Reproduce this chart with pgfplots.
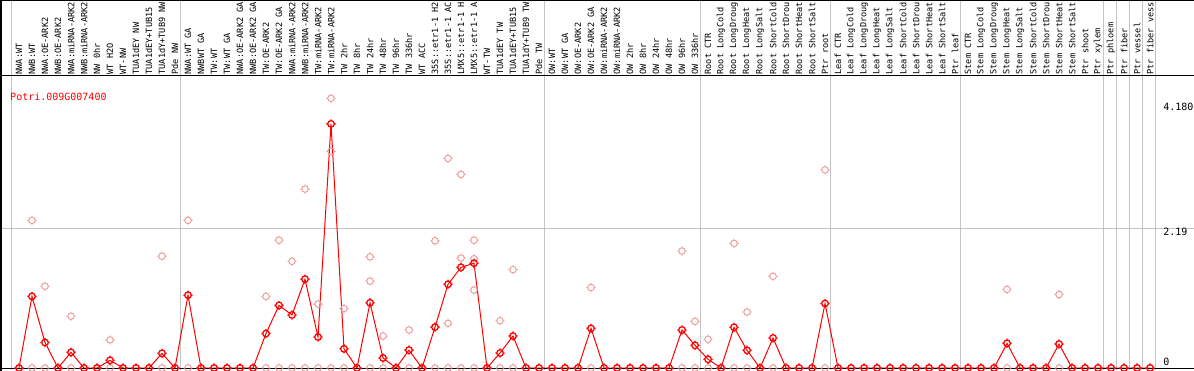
\documentclass[border=0pt]{standalone}
\usepackage{pgfplots}
\usepackage{pgfplotstable}
\pgfplotsset{compat=1.18}
\usepackage{fontspec}
\newfontfamily\monofont{DejaVu Sans Mono}
\definecolor{meanred}{RGB}{255,0,0}
\definecolor{reppink}{RGB}{236,150,150}
\definecolor{gridgray}{RGB}{196,196,196}

\tikzset{lab/.style={rotate=90, anchor=west, inner sep=0pt, text=black,
    font=\monofont\fontsize{8.6}{9}\selectfont}}

\pgfdeclareplotmark{ringtick}{%
  \pgfpathcircle{\pgfpointorigin}{\pgfplotmarksize}%
  \pgfpathmoveto{\pgfqpoint{\pgfplotmarksize}{0pt}}\pgfpathlineto{\pgfqpoint{1.4\pgfplotmarksize}{0pt}}%
  \pgfpathmoveto{\pgfqpoint{-\pgfplotmarksize}{0pt}}\pgfpathlineto{\pgfqpoint{-1.4\pgfplotmarksize}{0pt}}%
  \pgfpathmoveto{\pgfqpoint{0pt}{\pgfplotmarksize}}\pgfpathlineto{\pgfqpoint{0pt}{1.4\pgfplotmarksize}}%
  \pgfpathmoveto{\pgfqpoint{0pt}{-\pgfplotmarksize}}\pgfpathlineto{\pgfqpoint{0pt}{-1.4\pgfplotmarksize}}%
  \pgfusepathqstroke}

\pgfplotstableread{
x y
0 0
1 1.12
2 0.40
3 0
4 0.245
5 0
6 0
7 0.12
8 0
9 0
10 0
11 0.23
12 0
13 1.14
14 0
15 0
16 0
17 0
18 0
19 0.54
20 0.98
21 0.83
22 1.39
23 0.485
24 3.82
25 0.30
26 0
27 1.02
28 0.157
29 0
30 0.28
31 0
32 0.64
33 1.31
34 1.575
35 1.64
36 0
37 0.235
38 0.50
39 0
40 0
41 0
42 0
43 0
44 0.62
45 0
46 0
47 0
48 0
49 0
50 0
51 0.595
52 0.355
53 0.136
54 0
55 0.637
56 0.277
57 0
58 0.47
59 0
60 0
61 0
62 1.01
63 0
64 0
65 0
66 0
67 0
68 0
69 0
70 0
71 0
72 0
73 0
74 0
75 0
76 0.386
77 0
78 0
79 0
80 0.375
81 0
82 0
83 0
84 0
85 0
86 0
87 0
}\meanTable

\pgfplotstableread{
x y
1 2.31
2 1.28
4 0.81
7 0.44
11 1.75
13 2.31
19 1.12
20 2.00
21 1.67
22 2.80
23 1.00
24 4.22
24 3.39
25 0.93
27 1.74
27 1.36
28 0.50
30 0.595
32 1.99
33 3.28
33 0.70
34 3.03
34 1.72
35 2.00
35 1.71
35 1.22
37 0.74
38 1.54
44 1.26
51 1.83
52 0.73
53 0.45
55 1.95
56 0.876
58 1.435
62 3.10
76 1.23
80 1.15
}\repTable

\newcommand\lab[2]{\node[lab] at (axis cs:#1,4.59) {#2};}

\begin{document}
\begin{tikzpicture}
\begin{axis}[
  at={(0,0)}, anchor=south west,
  width=1194pt, height=370pt, scale only axis,
  xmin=-1.4615, xmax=90.3846,
  ymin=-0.0313, ymax=5.759,
  axis line style={draw=none},
  tick style={draw=none},
  xtick={-0.6,12.4,40.4,52.4,62.4,72.4,83.4,84.4,85.4,86.4,87.4},
  ytick={2.19},
  xticklabels={}, yticklabels={},
  xmajorgrids, ymajorgrids,
  grid style={gridgray, line width=1pt},
  clip=true,
]
% zero replicates (all categories)
\addplot[only marks, mark=ringtick, mark size=3.3pt, reppink, mark options={line width=0.9pt}]
  coordinates {(0,0)(1,0)(2,0)(3,0)(4,0)(5,0)(6,0)(7,0)(8,0)(9,0)(10,0)(11,0)(12,0)(13,0)(14,0)(15,0)(16,0)(17,0)(18,0)(19,0)(20,0)(21,0)(22,0)(23,0)(24,0)(25,0)(26,0)(27,0)(28,0)(29,0)(30,0)(31,0)(32,0)(33,0)(34,0)(35,0)(36,0)(37,0)(38,0)(39,0)(40,0)(41,0)(42,0)(43,0)(44,0)(45,0)(46,0)(47,0)(48,0)(49,0)(50,0)(51,0)(52,0)(53,0)(54,0)(55,0)(56,0)(57,0)(58,0)(59,0)(60,0)(61,0)(62,0)(63,0)(64,0)(65,0)(66,0)(67,0)(68,0)(69,0)(70,0)(71,0)(72,0)(73,0)(74,0)(75,0)(76,0)(77,0)(78,0)(79,0)(80,0)(81,0)(82,0)(83,0)(84,0)(85,0)(86,0)(87,0)};
\addplot[only marks, mark=ringtick, mark size=3.3pt, reppink, mark options={line width=0.9pt}]
  table[x=x,y=y]{\repTable};
\addplot[meanred, line width=1pt, mark=ringtick, mark size=3.3pt, mark options={line width=1.3pt}]
  table[x=x,y=y]{\meanTable};

% frame lines
\draw[black, line width=1.5pt] (axis cs:-1.40,-0.1) -- (axis cs:-1.40,6);
\draw[black, line width=1.5pt] (axis cs:-2,5.752) -- (axis cs:92,5.752);
\draw[black, line width=1pt] (axis cs:-2,4.5696) -- (axis cs:92,4.5696);
\draw[black, line width=1pt] (axis cs:-2,0) -- (axis cs:92,0);

% value labels
\node[anchor=west, inner sep=0pt, font=\monofont\fontsize{10}{11}\selectfont] at (axis cs:88.0,4.085) {4.180};
\node[anchor=west, inner sep=0pt, font=\monofont\fontsize{10}{11}\selectfont] at (axis cs:88.0,2.128) {2.19};
\node[anchor=west, inner sep=0pt, font=\monofont\fontsize{10}{11}\selectfont] at (axis cs:88.0,0.094) {0};
\node[anchor=west, inner sep=0pt, text=meanred, font=\monofont\fontsize{10}{11}\selectfont] at (axis cs:-0.69,4.241) {Potri.009G007400};

% category labels (as far as the reference shows them)
\lab{0}{NWA:WT}
\lab{1}{NWB:WT}
\lab{2}{NWA:OE-ARK2}
\lab{3}{NWB:OE-ARK2}
\lab{4}{NWA:miRNA-ARK2}
\lab{5}{NWB:miRNA-ARK2}
\lab{6}{NW 0hr}
\lab{7}{WT H2O}
\lab{8}{WT-NW}
\lab{9}{TUA1dEY NW}
\lab{10}{TUA1dEY+TUB15}
\lab{11}{TUA1dY+TUB9 NW}
\lab{12}{Pde NW}
\lab{13}{NWA:WT GA}
\lab{14}{NWBWT GA}
\lab{15}{TW:WT}
\lab{16}{TW:WT GA}
\lab{17}{NWA:OE-ARK2 GA}
\lab{18}{NWB:OE-ARK2 GA}
\lab{19}{TW:OE-ARK2}
\lab{20}{TW:OE-ARK2 GA}
\lab{21}{NWA:miRNA-ARK2}
\lab{22}{NWB:miRNA-ARK2}
\lab{23}{TW:miRNA-ARK2}
\lab{24}{TW:miRNA-ARK2}
\lab{25}{TW 2hr}
\lab{26}{TW 8hr}
\lab{27}{TW 24hr}
\lab{28}{TW 48hr}
\lab{29}{TW 96hr}
\lab{30}{TW 336hr}
\lab{31}{WT ACC}
\lab{32}{35S::etr1-1 H2}
\lab{33}{35S::etr1-1 AC}
\lab{34}{LMX5::etr1-1 H}
\lab{35}{LMX5::etr1-1 A}
\lab{36}{WT-TW}
\lab{37}{TUA1dEY TW}
\lab{38}{TUA1dEY+TUB15}
\lab{39}{TUA1dY+TUB9 TW}
\lab{40}{Pde TW}
\lab{41}{OW:WT}
\lab{42}{OW:WT GA}
\lab{43}{OW:OE-ARK2}
\lab{44}{OW:OE-ARK2 GA}
\lab{45}{OW:miRNA-ARK2}
\lab{46}{OW:miRNA-ARK2}
\lab{47}{OW 2hr}
\lab{48}{OW 8hr}
\lab{49}{OW 24hr}
\lab{50}{OW 48hr}
\lab{51}{OW 96hr}
\lab{52}{OW 336hr}
\lab{53}{Root CTR}
\lab{54}{Root LongCold}
\lab{55}{Root LongDroug}
\lab{56}{Root LongHeat}
\lab{57}{Root LongSalt}
\lab{58}{Root ShortCold}
\lab{59}{Root ShortDrou}
\lab{60}{Root ShortHeat}
\lab{61}{Root ShortSalt}
\lab{62}{Ptr root}
\lab{63}{Leaf CTR}
\lab{64}{Leaf LongCold}
\lab{65}{Leaf LongDroug}
\lab{66}{Leaf LongHeat}
\lab{67}{Leaf LongSalt}
\lab{68}{Leaf ShortCold}
\lab{69}{Leaf ShortDrou}
\lab{70}{Leaf ShortHeat}
\lab{71}{Leaf ShortSalt}
\lab{72}{Ptr leaf}
\lab{73}{Stem CTR}
\lab{74}{Stem LongCold}
\lab{75}{Stem LongDroug}
\lab{76}{Stem LongHeat}
\lab{77}{Stem LongSalt}
\lab{78}{Stem ShortCold}
\lab{79}{Stem ShortDrou}
\lab{80}{Stem ShortHeat}
\lab{81}{Stem ShortSalt}
\lab{82}{Ptr shoot}
\lab{83}{Ptr xylem}
\lab{84}{Ptr phloem}
\lab{85}{Ptr fiber}
\lab{86}{Ptr vessel}
\lab{87}{Ptr fiber vess}
\end{axis}
\pgfresetboundingbox
\useasboundingbox (0,0) rectangle (1194pt,370pt);
\end{tikzpicture}
\end{document}
